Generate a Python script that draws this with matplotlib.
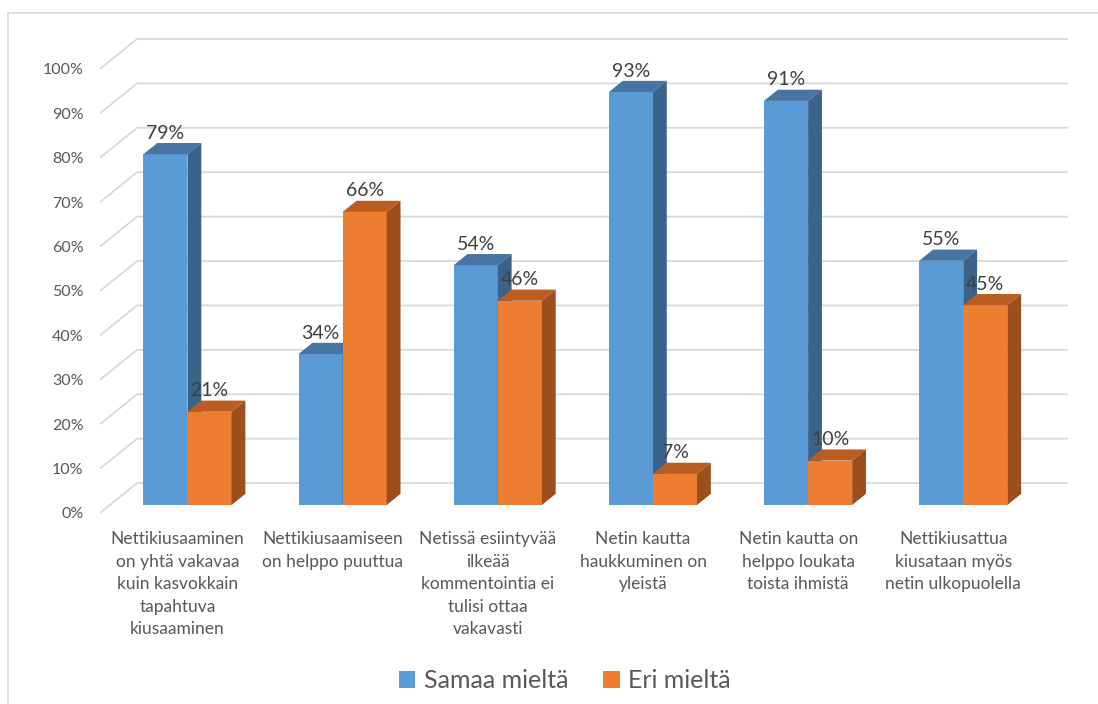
import matplotlib
matplotlib.use("Agg")
import matplotlib.pyplot as plt
from matplotlib.patches import Polygon, Rectangle, Patch
from matplotlib.lines import Line2D

plt.rcParams['font.family'] = ['Lato', 'DejaVu Sans']

# survey statements and answer shares (%)
categories = [
    "Nettikiusaaminen\non yhtä vakavaa\nkuin kasvokkain\ntapahtuva\nkiusaaminen",
    "Nettikiusaamiseen\non helppo puuttua",
    "Netissä esiintyvää\nilkeää\nkommentointia ei\ntulisi ottaa\nvakavasti",
    "Netin kautta\nhaukkuminen on\nyleistä",
    "Netin kautta on\nhelppo loukata\ntoista ihmistä",
    "Nettikiusattua\nkiusataan myös\nnetin ulkopuolella",
]
samaa = [79, 34, 54, 93, 91, 55]
eri = [21, 66, 46, 7, 10, 45]
series_names = ["Samaa mieltä", "Eri mieltä"]
yticks = list(range(0, 101, 10))

# face colours: front, top, side
blue = ("#5b9bd5", "#4674a3", "#3a6389")
orange = ("#ed7d31", "#bb5d22", "#9c4f1c")

# oblique depth of the floor (x in category units, y in percent)
DX = 0.239
DY = 6.74
# bar depth range as fraction of the floor depth, bar width
D0, D1 = 0.267, 0.64
W = 0.284

W_PX, H_PX = 1098, 704
fig = plt.figure(figsize=(W_PX / 100, H_PX / 100), dpi=100)
ax = fig.add_axes([100 / W_PX, (H_PX - 513) / H_PX, 968 / W_PX, 474 / H_PX])
ax.set_xlim(-0.5, len(categories) - 0.5 + DX)
ax.set_ylim(0, 100 + DY)
for s in ax.spines.values():
    s.set_visible(False)

# back wall gridlines with the slanted floor edge
for v in yticks:
    ax.plot([-0.5, -0.5 + DX, len(categories) - 0.5 + DX],
            [v, v + DY, v + DY], color="#d9d9d9", lw=1.3, zorder=1,
            clip_on=False, solid_capstyle="butt")


def bar3d(x0, v, cols):
    front, top, side = cols
    fx, fy = x0 + D0 * DX, D0 * DY
    bx, by = x0 + D1 * DX, D1 * DY
    ax.add_patch(Rectangle((fx, fy), W, v, fc=front, ec="none", zorder=3))
    ax.add_patch(Polygon([(fx, fy + v), (fx + W, fy + v), (bx + W, by + v), (bx, by + v)],
                         closed=True, fc=top, ec="none", zorder=3))
    ax.add_patch(Polygon([(fx + W, fy), (bx + W, by), (bx + W, by + v), (fx + W, fy + v)],
                         closed=True, fc=side, ec="none", zorder=3))
    ax.text(fx + W / 2, by + v + 0.3, f"{v}%", ha="center", va="bottom",
            fontsize=14, color="#404040", zorder=5)


for i in range(len(categories)):
    bar3d(i - W, samaa[i], blue)
    bar3d(i, eri[i], orange)

ax.set_yticks(yticks)
ax.set_yticklabels([f"{v}%" for v in yticks], fontsize=11.5, color="#595959")
ax.set_xticks(range(len(categories)))
ax.set_xticklabels(categories, fontsize=12.5, color="#595959", linespacing=1.5)
ax.tick_params(axis="y", length=0, pad=12)
ax.tick_params(axis="x", length=0, pad=13)

handles = [Patch(fc=blue[0], ec="none"), Patch(fc=orange[0], ec="none")]
fig.legend(handles, series_names, loc="center", bbox_to_anchor=(565 / W_PX, 1 - 681 / H_PX),
           ncol=2, frameon=False, fontsize=18, handlelength=0.65, handleheight=0.65,
           handletextpad=0.35, columnspacing=1.4, labelcolor="#595959")

# chart area border (top and left edges)
fig.add_artist(Line2D([8 / W_PX, 1.0], [1 - 13 / H_PX, 1 - 13 / H_PX],
                      transform=fig.transFigure, color="#d9d9d9", lw=1.2))
fig.add_artist(Line2D([8 / W_PX, 8 / W_PX], [0.0, 1 - 13 / H_PX],
                      transform=fig.transFigure, color="#d9d9d9", lw=1.2))

fig.savefig("out.png", dpi=100, facecolor="white")
